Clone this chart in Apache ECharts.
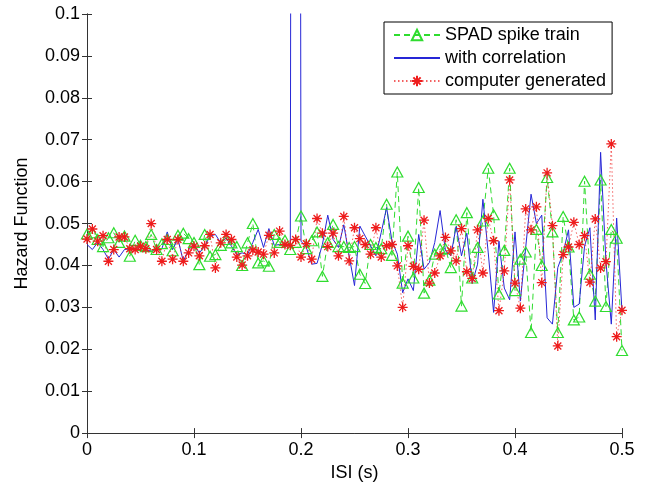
<!DOCTYPE html>
<html>
<head>
<meta charset="utf-8">
<script src="https://cdn.jsdelivr.net/npm/echarts@6/dist/echarts.min.js"></script>
<style>
  html, body { margin: 0; padding: 0; background: #fff; }
  #main { width: 648px; height: 487px; }
</style>
</head>
<body>
<div id="main"></div>
<script>
// ISI bins: 0 .. 0.5 s, 0.005 s wide
var binWidth = 0.005;

// SPAD spike train (green dashed, triangles)
var spad = [
  0.0475, 0.0478, 0.0462, 0.0445, 0.0466, 0.0478, 0.0455, 0.0470, 0.0422, 0.0460,
  0.0448, 0.0445, 0.0474, 0.0438, 0.0452, 0.0462, 0.0435, 0.0472, 0.0477, 0.0464,
  0.0455, 0.0402, 0.0474, 0.0422, 0.0426, 0.0448, 0.0462, 0.0454, 0.0445, 0.0400,
  0.0454, 0.0500, 0.0406, 0.0411, 0.0398, 0.0474, 0.0455, 0.0460, 0.0438, 0.0455,
  0.0518, 0.0440, 0.0459, 0.0480, 0.0374, 0.0455, 0.0498, 0.0445, 0.0445, 0.0443,
  0.0445, 0.0379, 0.0357, 0.0450, 0.0443, 0.0440, 0.0546, 0.0424, 0.0623, 0.0358,
  0.0470, 0.0370, 0.0586, 0.0334, 0.0365, 0.0427, 0.0439, 0.0440, 0.0395, 0.0509,
  0.0303, 0.0526, 0.0370, 0.0443, 0.0506, 0.0632, 0.0521, 0.0332, 0.0436, 0.0632,
  0.0340, 0.0415, 0.0432, 0.0240, 0.0486, 0.0400, 0.0610, 0.0480, 0.0240, 0.0517,
  0.0444, 0.0270, 0.0277, 0.0601, 0.0379, 0.0315, 0.0604, 0.0302, 0.0486, 0.0465,
  0.0197
];

// with correlation (blue solid)
var withCorr = [
  0.0450, 0.0438, 0.0455, 0.0438, 0.0415, 0.0438, 0.0420, 0.0438, 0.0440, 0.0436,
  0.0444, 0.0438, 0.0434, 0.0438, 0.0440, 0.0480, 0.0438, 0.0463, 0.0410, 0.0438,
  0.0450, 0.0430, 0.0446, 0.0470, 0.0474, 0.0454, 0.0466, 0.0446, 0.0426, 0.0430,
  0.0426, 0.0455, 0.0486, 0.0443, 0.0488, 0.0448, 0.0450, 0.0446, 0.0448, 0.9000,
  0.0458, 0.0443, 0.0403, 0.0405, 0.0450, 0.0520, 0.0462, 0.0443, 0.0497, 0.0423,
  0.0352, 0.0494, 0.0470, 0.0447, 0.0423, 0.0479, 0.0538, 0.0459, 0.0427, 0.0335,
  0.0368, 0.0340, 0.0474, 0.0391, 0.0407, 0.0455, 0.0531, 0.0435, 0.0423, 0.0493,
  0.0423, 0.0477, 0.0357, 0.0403, 0.0558, 0.0430, 0.0288, 0.0458, 0.0346, 0.0318,
  0.0480, 0.0315, 0.0443, 0.0570, 0.0500, 0.0520, 0.0275, 0.0260, 0.0395, 0.0430,
  0.0485, 0.0300, 0.0308, 0.0446, 0.0490, 0.0270, 0.0670, 0.0410, 0.0260, 0.0513,
  0.0290
];

// computer generated (red dotted, asterisks)
var computerGen = [
  0.0463, 0.0487, 0.0458, 0.0471, 0.0410, 0.0438, 0.0468, 0.0468, 0.0440, 0.0438,
  0.0446, 0.0440, 0.0500, 0.0438, 0.0410, 0.0462, 0.0415, 0.0462, 0.0410, 0.0430,
  0.0446, 0.0423, 0.0447, 0.0474, 0.0394, 0.0454, 0.0474, 0.0462, 0.0420, 0.0401,
  0.0423, 0.0437, 0.0432, 0.0427, 0.0472, 0.0430, 0.0482, 0.0450, 0.0448, 0.0462,
  0.0420, 0.0452, 0.0415, 0.0512, 0.0477, 0.0445, 0.0477, 0.0423, 0.0517, 0.0411,
  0.0490, 0.0464, 0.0450, 0.0427, 0.0490, 0.0420, 0.0447, 0.0450, 0.0399, 0.0300,
  0.0447, 0.0398, 0.0391, 0.0508, 0.0358, 0.0382, 0.0423, 0.0467, 0.0435, 0.0411,
  0.0488, 0.0385, 0.0369, 0.0485, 0.0382, 0.0512, 0.0459, 0.0292, 0.0387, 0.0604,
  0.0358, 0.0298, 0.0535, 0.0485, 0.0540, 0.0359, 0.0621, 0.0495, 0.0208, 0.0426,
  0.0444, 0.0503, 0.0450, 0.0471, 0.0360, 0.0511, 0.0394, 0.0409, 0.0690, 0.0230,
  0.0293
];

var seriesNames = ['SPAD spike train', 'with correlation', 'computer generated'];

function pairs(vals) {
    var out = [];
    for (var i = 0; i < vals.length; i++) {
        out.push([i * binWidth, vals[i]]);
    }
    return out;
}

var font = 'Liberation Sans, Arial, Helvetica, sans-serif';
var axisCol = '#333';
var green = '#2fdc2f';
var blue = '#2626d6';
var red = '#ee1c1c';

function fmt(v) { return String(+v.toFixed(2)); }

var myChart = echarts.init(document.getElementById('main'));

var option = {
    animation: false,
    backgroundColor: '#fff',
    grid: { left: 87, top: 14, right: 26, bottom: 53 },
    legend: {
        orient: 'vertical',
        left: 384,
        top: 22,
        padding: [4, 6, 4, 9],
        itemGap: 5,
        itemWidth: 46,
        itemHeight: 13,
        borderColor: '#000',
        borderWidth: 1,
        borderRadius: 0,
        backgroundColor: '#fff',
        textStyle: { fontSize: 18, fontFamily: font, color: '#000', lineHeight: 18 },
        data: [
            seriesNames[0],
            // plain line, no marker
            { name: seriesNames[1], itemStyle: { opacity: 0 } },
            seriesNames[2]
        ]
    },
    xAxis: [{
        type: 'value', min: 0, max: 0.5, interval: 0.1,
        name: 'ISI (s)', nameLocation: 'middle', nameGap: 28,
        nameTextStyle: { fontSize: 18, fontFamily: font, color: '#000' },
        axisLine: { lineStyle: { color: axisCol, width: 1 } },
        axisTick: { inside: true, length: 5, lineStyle: { color: axisCol } },
        axisLabel: { fontSize: 18, fontFamily: font, color: '#000', margin: 8, formatter: fmt },
        splitLine: { show: false }
    }, {
        type: 'value', min: 0, max: 0.5, interval: 0.1, position: 'top',
        axisLine: { lineStyle: { color: axisCol, width: 1 } },
        axisTick: { inside: true, length: 5, lineStyle: { color: axisCol } },
        axisLabel: { show: false },
        splitLine: { show: false }
    }],
    yAxis: [{
        type: 'value', min: 0, max: 0.1, interval: 0.01,
        name: 'Hazard Function', nameLocation: 'middle', nameGap: 56,
        nameTextStyle: { fontSize: 18, fontFamily: font, color: '#000' },
        axisLine: { show: true, lineStyle: { color: axisCol, width: 1 } },
        axisTick: { show: true, inside: true, length: 5, lineStyle: { color: axisCol } },
        axisLabel: { fontSize: 18, fontFamily: font, color: '#000', margin: 7, formatter: fmt },
        splitLine: { show: false }
    }, {
        type: 'value', min: 0, max: 0.1, interval: 0.01, position: 'right',
        axisLine: { show: true, lineStyle: { color: axisCol, width: 1 } },
        axisTick: { show: true, inside: true, length: 5, lineStyle: { color: axisCol } },
        axisLabel: { show: false },
        splitLine: { show: false }
    }],
    series: [{
        name: seriesNames[0],
        type: 'line',
        data: pairs(spad),
        symbol: 'triangle',
        symbolSize: [11, 10],
        showAllSymbol: true,
        clip: true,
        lineStyle: { color: green, width: 1, type: [6, 4] },
        itemStyle: { color: 'rgba(0,0,0,0)', borderColor: green, borderWidth: 1.2 }
    }, {
        name: seriesNames[1],
        type: 'line',
        data: pairs(withCorr),
        symbol: 'none',
        clip: true,
        lineStyle: { color: blue, width: 1 },
        itemStyle: { color: blue }
    }, {
        name: seriesNames[2],
        type: 'line',
        data: pairs(computerGen),
        symbol: 'path://M5 0L5 10M0 5L10 5M1.5 1.5L8.5 8.5M8.5 1.5L1.5 8.5',
        symbolSize: 10,
        showAllSymbol: true,
        clip: true,
        lineStyle: { color: red, width: 1, type: [1.5, 2.5], opacity: 0.7 },
        itemStyle: { color: red, borderColor: red, borderWidth: 1.3 }
    }]
};

myChart.setOption(option);
</script>
</body>
</html>
